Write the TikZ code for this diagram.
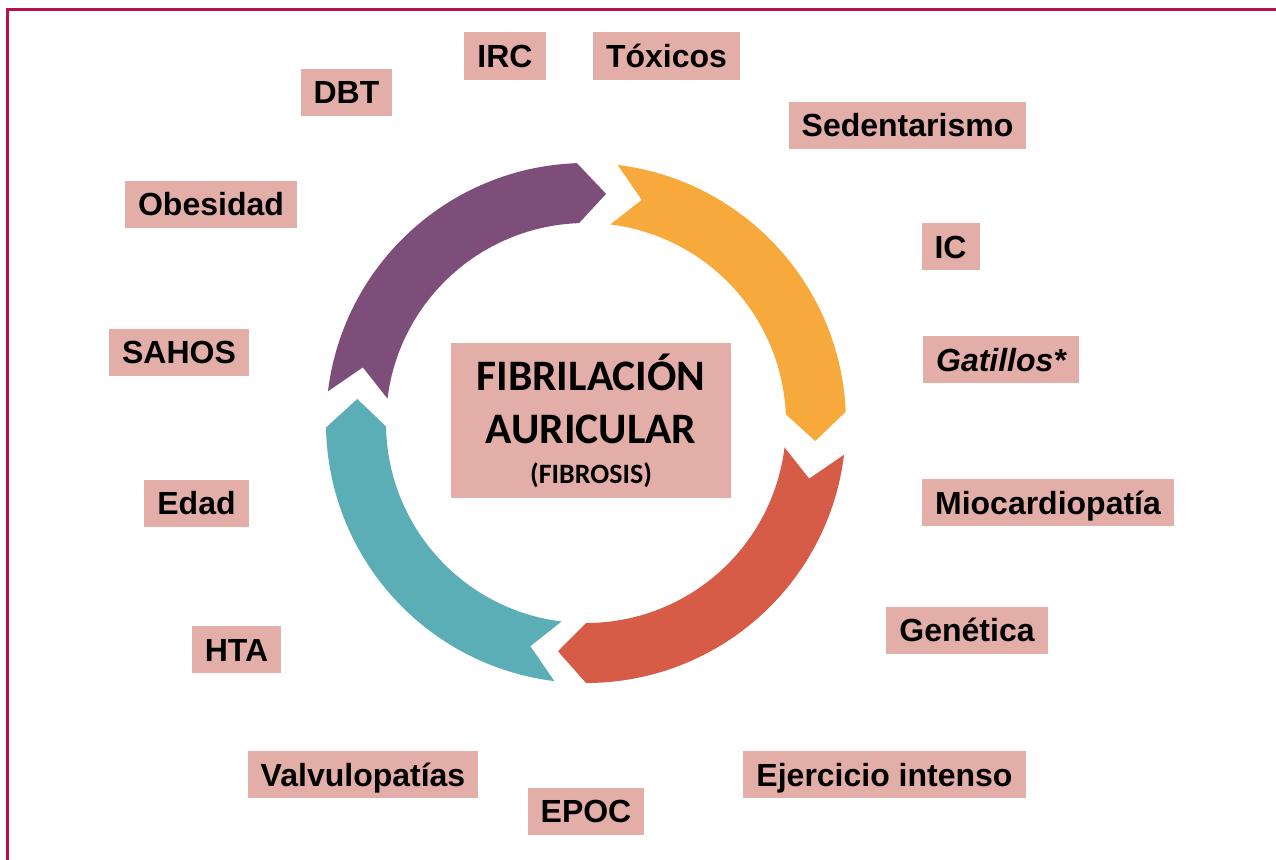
\documentclass[tikz,border=0pt]{standalone}
\usepackage{fontspec}
\setmainfont{Liberation Sans}
\newfontfamily\carlito{Carlito}

\definecolor{rosa}{HTML}{E3AEA8}
\definecolor{marco}{HTML}{B8114A}
\definecolor{morado}{HTML}{7E4E7B}
\definecolor{naranja}{HTML}{F8A93B}
\definecolor{rojo}{HTML}{D65C48}
\definecolor{turquesa}{HTML}{5BAEB5}

% segmento del anillo: color, angulo cola, angulo cabeza
\newcommand{\segmento}[3]{%
  \fill[#1] (#2:260) arc[start angle=#2, end angle=#3, radius=260]
    -- ({#3-7}:230) -- (#3:200)
    arc[start angle=#3, end angle=#2, radius=200]
    -- ({#2-7}:230) -- cycle;}

\begin{document}
\begin{tikzpicture}[x=1pt, y=-1pt,
  factor/.style={fill=rosa, font=\bfseries\fontsize{32}{36}\selectfont,
    minimum height=47, inner xsep=13, inner ysep=0, text height=23, text depth=0},
  centro/.style={fill=rosa, minimum width=280, minimum height=155, align=center,
    font=\carlito\bfseries\fontsize{43.5}{53}\selectfont}]

\useasboundingbox (0,0) rectangle (1276,859);
\clip (0,0) rectangle (1276,859);

% Marco
\draw[marco, line width=3] (7,880) -- (7,10) -- (1290,10);

% Anillo con flechas
\begin{scope}[shift={(586,423)}, yscale=-1]
\segmento{morado}{173}{92}
\segmento{naranja}{83}{2.5}
\segmento{rojo}{-7}{-90}
\segmento{turquesa}{-97}{-179}
\end{scope}

% Centro
\node[centro] (fa) at (591,420.5) {FIBRILACIÓN\\AURICULAR\\[-13pt]{\fontsize{28}{32}\selectfont (FIBROSIS)}};

% Factores
\node[factor] (irc) at (505,56) {IRC};
\node[factor] (toxicos) at (666.5,56) {Tóxicos};
\node[factor] (dbt) at (346.5,92) {DBT};
\node[factor] (sedent) at (907.5,125) {Sedentarismo};
\node[factor] (obesidad) at (211,204) {Obesidad};
\node[factor] (ic) at (950.5,246.5) {IC};
\node[factor] (gatillos) at (1001,359.5) {\itshape Gatillos*};
\node[factor] (sahos) at (179,352) {SAHOS};
\node[factor] (edad) at (196.5,503) {Edad};
\node[factor] (miocard) at (1048,502.5) {Miocardiopatía};
\node[factor] (genetica) at (967,630) {Genética};
\node[factor] (hta) at (236.5,649.5) {HTA};
\node[factor] (valvulo) at (363,774.5) {Valvulopatías};
\node[factor] (ejercicio) at (884.5,774.5) {Ejercicio intenso};
\node[factor] (epoc) at (586,811) {EPOC};

\end{tikzpicture}
\end{document}
